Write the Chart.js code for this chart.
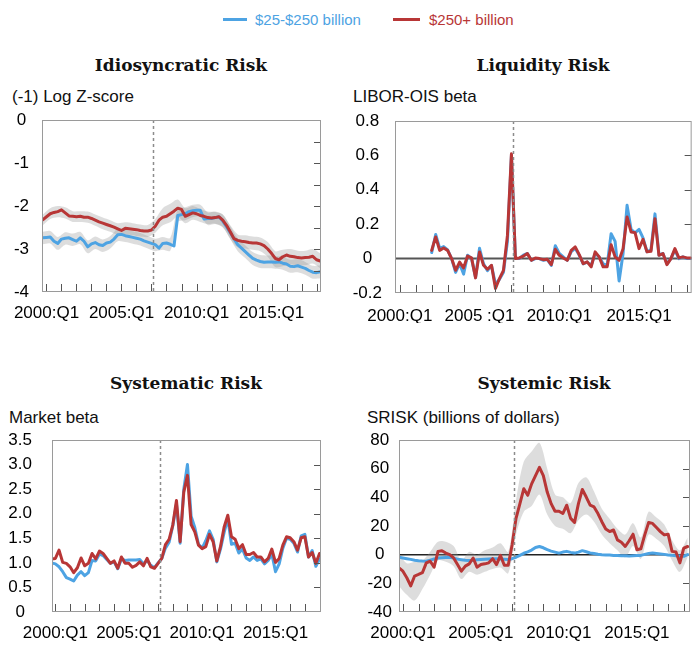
<!DOCTYPE html>
<html><head><meta charset="utf-8">
<script src="https://cdn.jsdelivr.net/npm/chart.js@4.4.1/dist/chart.umd.min.js"></script>
<style>
html,body{margin:0;padding:0;background:#fff;}
body{width:700px;height:646px;position:relative;overflow:hidden;font-family:"Liberation Sans",Arial,sans-serif;}
.t{position:absolute;white-space:nowrap;}
.title{font-family:"DejaVu Serif",serif;font-size:17px;font-weight:bold;color:#111;transform:translateX(-50%);line-height:22px;}
.unit{font-size:17px;color:#111;line-height:20px;}
.leg{font-size:15px;line-height:18px;}
.sw{position:absolute;height:3px;}
canvas{position:absolute;}
</style></head><body>

<div class="sw" style="left:223px;top:18px;width:24px;background:#4da3e3"></div>
<div class="t leg" style="left:255px;top:11px;color:#4da3e3">$25-$250 billion</div>
<div class="sw" style="left:393px;top:18px;width:27px;background:#b83636"></div>
<div class="t leg" style="left:429px;top:11px;color:#b83636">$250+ billion</div>

<div class="t title" style="left:181px;top:54px">Idiosyncratic Risk</div>
<div class="t title" style="left:543px;top:54px">Liquidity Risk</div>
<div class="t title" style="left:186px;top:372px">Systematic Risk</div>
<div class="t title" style="left:544px;top:372px">Systemic Risk</div>

<div class="t unit" style="left:12px;top:87px">(-1) Log Z-score</div>
<div class="t unit" style="left:353px;top:87px">LIBOR-OIS beta</div>
<div class="t unit" style="left:9px;top:408px">Market beta</div>
<div class="t unit" style="left:367px;top:408px">SRISK (billions of dollars)</div>

<canvas id="c1" width="340" height="250" style="left:0px;top:80px"></canvas>
<canvas id="c2" width="350" height="250" style="left:350px;top:80px"></canvas>
<canvas id="c3" width="340" height="246" style="left:0px;top:400px"></canvas>
<canvas id="c4" width="350" height="246" style="left:350px;top:400px"></canvas>

<script>
// ---------- categories ----------
const quarters = [];
for (let y = 1999; y <= 2018; y++) {
  for (let q = 1; q <= 4; q++) {
    if (y === 1999 && q < 4) continue;
    if (y === 2018 && q > 2) continue;
    quarters.push(y + ':Q' + q);
  }
}
const halfYearQuarters = quarters.filter((_, k) => k % 2 === 0);
const eventQuarter = [2007.12];

// ---------- tick labels ----------
const xLabelYears = [2000, 2005, 2010, 2015];
const xLabelsStd = ['2000:Q1', '2005:Q1', '2010:Q1', '2015:Q1'];
const xLabelsLiq = ['2000:Q1', '2005 :Q1', '2010:Q1', '2015:Q1'];

// ---------- Idiosyncratic risk ----------
const idioLarge = [-2.32,-2.25,-2.18,-2.15,-2.13,-2.09,-2.16,-2.23,-2.24,-2.25,
 -2.24,-2.26,-2.26,-2.29,-2.33,-2.37,-2.40,-2.43,-2.46,-2.49,
 -2.53,-2.57,-2.52,-2.53,-2.54,-2.55,-2.57,-2.58,-2.58,-2.56,
 -2.47,-2.33,-2.26,-2.24,-2.18,-2.12,-2.05,-2.08,-2.24,-2.20,
 -2.16,-2.18,-2.22,-2.24,-2.27,-2.28,-2.27,-2.25,-2.33,-2.45,
 -2.60,-2.76,-2.80,-2.82,-2.83,-2.85,-2.86,-2.86,-2.88,-2.92,
 -3.00,-3.10,-3.22,-3.25,-3.18,-3.14,-3.17,-3.18,-3.20,-3.21,
 -3.20,-3.19,-3.17,-3.25,-3.28];
const idioMid = [-2.74,-2.73,-2.72,-2.82,-2.87,-2.77,-2.75,-2.74,-2.78,-2.82,
 -2.74,-2.82,-2.95,-2.88,-2.85,-2.90,-2.92,-2.86,-2.84,-2.77,
 -2.67,-2.66,-2.69,-2.71,-2.73,-2.75,-2.77,-2.81,-2.84,-2.87,
 -2.90,-2.98,-2.87,-2.86,-2.89,-2.93,-2.22,-2.20,-2.18,-2.13,
 -2.11,-2.10,-2.10,-2.30,-2.29,-2.29,-2.27,-2.25,-2.35,-2.48,
 -2.62,-2.76,-2.90,-2.98,-3.06,-3.14,-3.22,-3.26,-3.29,-3.31,
 -3.30,-3.30,-3.31,-3.30,-3.33,-3.35,-3.40,-3.41,-3.39,-3.42,
 -3.45,-3.50,-3.54,-3.55,-3.53];
const idioLargeHi = [-2.20,-2.05,-2.00,-2.03,-2.12,-2.12,-2.13,-2.20,-2.27,-2.33,
 -2.40,-2.38,-2.40,-2.43,-2.44,-2.30,-2.05,-1.95,-1.85,-2.05,
 -2.00,-2.07,-2.13,-2.14,-2.20,-2.45,-2.66,-2.68,-2.71,-2.73,
 -2.84,-3.05,-3.02,-3.00,-3.04,-3.04,-3.00,-3.10];
const idioLargeLo = [-2.45,-2.30,-2.26,-2.29,-2.37,-2.37,-2.39,-2.46,-2.54,-2.60,
 -2.67,-2.66,-2.68,-2.71,-2.72,-2.62,-2.45,-2.38,-2.25,-2.40,
 -2.32,-2.37,-2.42,-2.41,-2.48,-2.76,-2.96,-2.99,-3.02,-3.05,
 -3.18,-3.42,-3.40,-3.36,-3.38,-3.38,-3.34,-3.45];
const idioMidHi = [-2.60,-2.58,-2.72,-2.61,-2.64,-2.60,-2.80,-2.71,-2.78,-2.70,
 -2.53,-2.55,-2.59,-2.63,-2.70,-2.76,-2.72,-2.74,-2.08,-2.03,
 -1.97,-1.97,-2.15,-2.13,-2.20,-2.47,-2.75,-2.91,-3.07,-3.14,
 -3.15,-3.16,-3.18,-3.25,-3.24,-3.30,-3.39,-3.38];
const idioMidLo = [-2.89,-2.87,-3.02,-2.90,-2.93,-2.89,-3.10,-3.00,-3.07,-2.99,
 -2.82,-2.84,-2.88,-2.92,-2.99,-3.05,-3.02,-3.04,-2.37,-2.33,
 -2.26,-2.25,-2.44,-2.42,-2.50,-2.77,-3.05,-3.21,-3.37,-3.44,
 -3.45,-3.46,-3.48,-3.55,-3.54,-3.60,-3.69,-3.68];

// ---------- Liquidity risk (starts 2002:Q1) ----------
const liqLarge = [null,null,null,null,null,null,null,null,null,
 0.048,0.126,0.048,0.062,0.048,0.0,-0.068,-0.02,-0.054,0.015,
 0.004,-0.112,0.039,-0.039,-0.062,-0.039,-0.174,-0.116,-0.068,0.135,
 0.609,0.0,0.004,0.015,0.029,-0.01,0.004,0.0,-0.006,-0.004,
 -0.035,0.054,0.019,0.004,-0.01,0.048,0.068,0.023,-0.029,-0.019,
 -0.048,0.039,0.01,-0.048,-0.048,0.081,0.01,-0.01,0.058,0.242,
 0.155,0.151,0.058,0.112,0.039,0.043,0.232,0.019,0.029,-0.035,
 0.0,0.058,0.004,0.01,0.004,0.004];
const liqMid = [null,null,null,null,null,null,null,null,null,
 0.035,0.14,0.06,0.07,0.05,0.0,-0.08,-0.03,-0.09,0.02,
 0.0,-0.11,0.06,-0.03,-0.07,-0.04,-0.15,-0.12,-0.08,0.10,
 0.60,0.0,0.0,0.02,0.03,-0.01,0.0,0.0,-0.01,-0.005,
 -0.04,0.075,0.03,0.01,-0.01,0.04,0.06,0.02,-0.03,-0.02,
 -0.04,0.03,0.01,-0.03,-0.04,0.145,0.10,-0.13,0.03,0.31,
 0.17,0.15,0.17,0.12,0.04,0.05,0.26,0.02,0.03,-0.03,
 0.0,0.05,0.0,0.01,0.0,0.0];

// ---------- Systematic risk ----------
const sysLarge = [1.08,1.09,1.26,1.01,0.99,0.92,0.80,0.90,1.10,0.94,
 0.99,1.19,1.08,1.24,1.19,1.09,0.99,1.04,0.89,1.12,
 0.99,0.99,0.91,0.95,1.02,0.94,1.09,0.92,0.89,0.99,
 1.09,1.37,1.48,1.77,2.27,1.43,2.44,2.78,1.78,1.63,
 1.36,1.29,1.33,1.58,1.43,1.04,1.33,1.73,1.97,1.53,
 1.48,1.29,1.37,1.17,1.17,1.21,1.12,1.12,1.02,1.09,
 1.28,1.01,1.09,1.36,1.53,1.51,1.43,1.26,1.51,1.53,
 1.12,1.21,0.99,1.19,1.17];
const sysMid = [1.00,0.98,0.92,0.82,0.70,0.67,0.63,0.75,0.82,0.74,
 0.80,1.05,1.04,1.18,1.15,1.07,0.99,1.02,0.88,1.08,
 1.05,1.06,1.06,1.06,1.07,0.98,1.05,0.95,0.90,1.00,
 1.09,1.30,1.42,1.75,2.20,1.40,2.50,3.00,1.95,1.72,
 1.38,1.30,1.45,1.65,1.48,1.02,1.28,1.62,1.90,1.38,
 1.40,1.20,1.28,1.10,1.05,1.12,1.05,1.08,0.98,1.05,
 1.18,0.82,0.98,1.30,1.50,1.48,1.40,1.22,1.55,1.58,
 1.12,1.25,0.93,1.08,1.10];

// ---------- Systemic risk (SRISK) ----------
const srLarge = [-9.2,-11.5,-16.1,-21.8,-14.9,-13.8,-12.6,-5.7,-4.6,-8.7,
 2.3,2.8,1.1,0,-2.3,-6.9,-11.5,-8.0,-6.4,-2.3,
 -8.7,-6.9,-6.4,-5.7,-2.8,-6.9,-0.5,-7.4,-7.4,6.9,
 25.3,35.6,46,41.4,49.4,55.2,60.9,55.2,43.7,35.6,
 30.3,30.3,28.7,34.5,25.3,22.5,35.6,45.5,40.2,34.5,
 33.3,28.7,23,17.9,16.1,17.2,10.3,8.7,5.7,9.7,
 14.3,3.4,4.1,13.8,22.5,21.8,18.9,16.1,13.8,14.3,
 2.3,1.8,-5.7,4.6,5.7];
const srMid = [-1.8,-2.3,-2.8,-3.3,-3.9,-4.3,-4.5,-4.6,-3.8,-3.0,
 -2.4,-2.2,-2.0,-1.8,-2.4,-3.1,-3.5,-3.9,-4.1,-3.9,
 -3.6,-3.4,-3.2,-3.0,-2.9,-2.8,-3.0,-3.2,-3.4,-2.8,
 -1.8,-0.5,1.0,2.0,3.2,5.0,5.7,4.8,3.5,2.5,
 1.8,1.1,1.8,2.3,1.6,1.1,1.8,2.8,2.0,1.2,
 0.8,0.3,0.0,-0.2,-0.3,-0.5,-0.6,-0.7,-0.8,-0.9,
 -0.7,-0.6,-0.5,0.2,0.8,1.1,0.8,0.5,0.2,-0.2,
 -0.5,-0.8,-1.0,-1.1,0.0];
const srLargeHi = [1,-6,-5,-4,2,9,9,6,-4,2,
 0,3,5,8,2,38,65,72,78,60,
 42,40,36,50,54,44,32,25,18,14,
 22,12,30,26,21,10,3,12];
const srLargeLo = [-22,-28,-32,-24,-14,-4,-5,-8,-17,-12,
 -14,-12,-10,-9,-13,14,30,34,42,28,
 20,18,15,24,28,23,14,8,3,-2,
 6,-3,14,11,6,-4,-12,-2];

// ---------- helpers ----------
const toX = s => { const p = s.split(':Q'); return +p[0] + (+p[1] - 1) / 4; };
const qx = quarters.map(toX);
const hx = halfYearQuarters.map(toX);
const BLUE = '#4da3e3', RED = '#b83636', BAND = 'rgba(150,150,150,0.32)';

Chart.defaults.font.family = '"Liberation Sans", Arial, sans-serif';
Chart.defaults.font.size = 17;
Chart.defaults.color = '#000';

const framePlugin = {
  id: 'frame',
  beforeDatasetsDraw(chart, args, o) {
    if (!o.zero) return;
    const {ctx, chartArea: a, scales: {y}} = chart;
    const py = y.getPixelForValue(0);
    ctx.save();
    ctx.strokeStyle = o.zeroColor; ctx.lineWidth = o.zeroWidth;
    ctx.beginPath(); ctx.moveTo(a.left, py); ctx.lineTo(a.right, py); ctx.stroke();
    ctx.restore();
  },
  afterDatasetsDraw(chart, args, o) {
    const {ctx, chartArea: a, scales: {x, y}} = chart;
    ctx.save();
    ctx.strokeStyle = '#8c8c8c'; ctx.lineWidth = 1.5; ctx.setLineDash([3, 3]);
    eventQuarter.forEach(v => {
      const px = Math.round(x.getPixelForValue(v)) + 0.5;
      ctx.beginPath(); ctx.moveTo(px, a.top); ctx.lineTo(px, a.bottom); ctx.stroke();
    });
    ctx.setLineDash([]);
    ctx.strokeStyle = '#555'; ctx.lineWidth = 1;
    x.ticks.forEach(t => {
      const px = Math.round(x.getPixelForValue(t.value)) + 0.5;
      ctx.beginPath(); ctx.moveTo(px, a.bottom); ctx.lineTo(px, a.bottom - 8); ctx.stroke();
    });
    const eps = 1e-6 * (y.max - y.min);
    y.ticks.forEach(t => {
      if (t.value <= y.min + eps || t.value >= y.max - eps) return;
      if (o.zero && Math.abs(t.value) < eps) return;
      const py = Math.round(y.getPixelForValue(t.value)) + 0.5;
      ctx.beginPath(); ctx.moveTo(a.right, py); ctx.lineTo(a.right - 7, py); ctx.stroke();
    });
    ctx.strokeStyle = '#9a9a9a';
    ctx.strokeRect(a.left + 0.5, a.top + 0.5, a.right - a.left - 1, a.bottom - a.top - 1);
    ctx.restore();
  }
};

function lineDs(values, color) {
  return {data: values, borderColor: color, borderWidth: 3, fill: false, pointRadius: 0,
          tension: 0, spanGaps: false, borderJoinStyle: 'round', borderCapStyle: 'round'};
}
function bandDs(values, isLower) {
  return {data: values.map((v, k) => ({x: hx[k], y: v})), borderWidth: 0, borderColor: 'rgba(0,0,0,0)',
          backgroundColor: BAND, pointRadius: 0, tension: 0.3, fill: isLower ? '-1' : false};
}

function makePanel(id, p) {
  new Chart(document.getElementById(id), {
    type: 'line',
    data: {labels: qx, datasets: p.datasets},
    options: {
      responsive: false, animation: false, events: [],
      layout: {padding: p.pad},
      plugins: {legend: {display: false}, tooltip: {enabled: false},
                frame: {zero: p.zero, zeroColor: p.zeroColor, zeroWidth: p.zeroWidth}},
      scales: {
        x: {type: 'linear', min: p.xMin, max: p.xMax,
            grid: {display: false, drawTicks: false}, border: {display: false},
            afterFit: s => { s.height = 30; },
            ticks: {stepSize: 1, includeBounds: false, autoSkip: false, maxRotation: 0, minRotation: 0,
                    padding: p.xPad, color: '#000',
                    callback: v => { const k = xLabelYears.indexOf(v); return k >= 0 ? p.xLabels[k] : ''; }}},
        y: {type: 'linear', min: p.yMin, max: p.yMax,
            grid: {display: false, drawTicks: false}, border: {display: false},
            afterFit: s => { s.width = p.yW; },
            ticks: {stepSize: p.yStep, autoSkip: false, crossAlign: 'center', padding: p.yPad,
                    color: '#000', callback: p.yFmt}}
      }
    },
    plugins: [framePlugin]
  });
}

makePanel('c1', {
  datasets: [lineDs(idioLarge, RED), lineDs(idioMid, BLUE),
             bandDs(idioLargeHi, false), bandDs(idioLargeLo, true),
             bandDs(idioMidHi, false), bandDs(idioMidLo, true)],
  pad: {left: 0, top: 40, right: 19, bottom: 8}, yW: 42, yPad: 13, xPad: 11,
  xMin: 1999.7, xMax: 2018.3, xLabels: xLabelsStd,
  yMin: -4, yMax: 0, yStep: 0.5,
  yFmt: v => Number.isInteger(v) ? String(v) : '', zero: false
});
makePanel('c2', {
  datasets: [lineDs(liqLarge, RED), lineDs(liqMid, BLUE)],
  pad: {left: 0, top: 41, right: 8, bottom: 7}, yW: 45, yPad: 13, xPad: 13,
  xMin: 1999.7, xMax: 2018.3, xLabels: xLabelsLiq,
  yMin: -0.2, yMax: 0.8, yStep: 0.2,
  yFmt: v => String(Math.round(v * 10) / 10), zero: true, zeroColor: '#555', zeroWidth: 2
});
makePanel('c3', {
  datasets: [lineDs(sysLarge, RED), lineDs(sysMid, BLUE)],
  pad: {left: 0, top: 40, right: 19, bottom: 4}, yW: 52, yPad: 20, xPad: 11,
  xMin: 1999.77, xMax: 2018.1, xLabels: xLabelsStd,
  yMin: 0, yMax: 3.5, yStep: 0.5,
  yFmt: v => (Math.abs(v) < 1e-9 ? '0' : v.toFixed(1)), zero: false
});
makePanel('c4', {
  datasets: [lineDs(srLarge, RED), lineDs(srMid, BLUE),
             bandDs(srLargeHi, false), bandDs(srLargeLo, true)],
  pad: {left: 0, top: 40, right: 10, bottom: 4}, yW: 49, yPad: 7, xPad: 11,
  xMin: 1999.75, xMax: 2018.4, xLabels: xLabelsStd,
  yMin: -40, yMax: 80, yStep: 20,
  yFmt: v => String(Math.round(v)), zero: true, zeroColor: '#222', zeroWidth: 1.5
});
</script>
</body></html>
